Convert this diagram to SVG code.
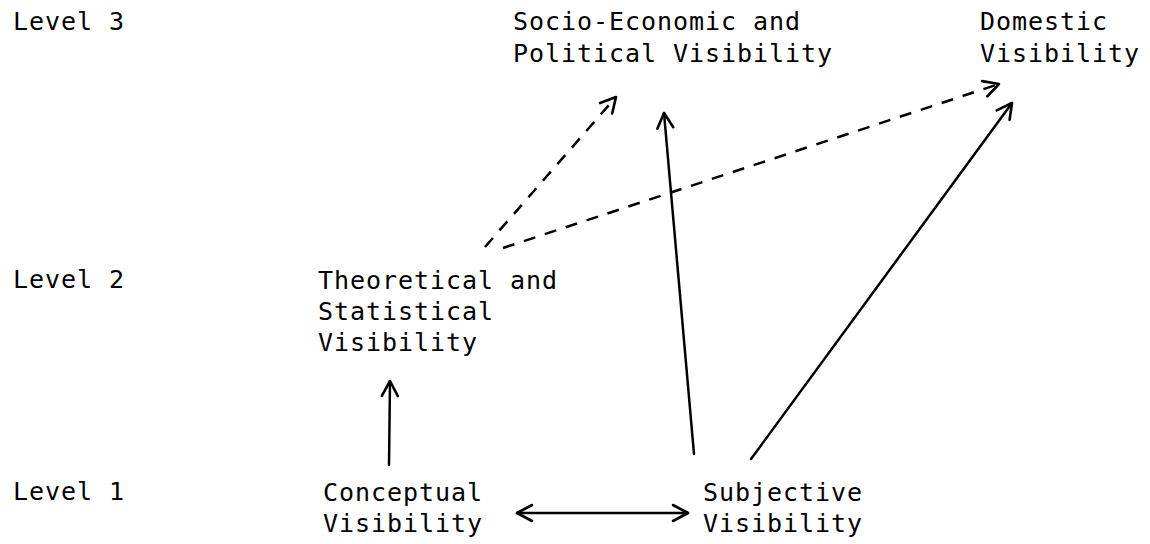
<svg xmlns="http://www.w3.org/2000/svg" width="1150" height="544" viewBox="0 0 1150 544">
<style>
text{font-family:"DejaVu Sans Mono","Liberation Mono",monospace;font-size:25px;letter-spacing:0.95px;fill:#000}
.c{stroke:#000;stroke-width:2.5;fill:none;stroke-linecap:round}
.d{stroke-dasharray:12 10;stroke-linecap:butt}
</style>
<defs>
<marker id="ah" markerUnits="userSpaceOnUse" markerWidth="30" markerHeight="30" refX="0" refY="0" viewBox="-20 -15 30 30" orient="auto-start-reverse">
<path d="M -15 -8 L 0 0 L -15 8" stroke="#000" stroke-width="2.6" fill="none" stroke-linecap="round" stroke-linejoin="round"/>
</marker>
</defs>
<rect width="1150" height="544" fill="#fff"/>
<g id="levels">
<text x="13" y="30">Level 3</text>
<text x="13" y="288">Level 2</text>
<text x="13" y="500">Level 1</text>
</g>
<g id="socio">
<text x="513" y="30">Socio-Economic and</text>
<text x="513" y="62">Political Visibility</text>
</g>
<g id="domestic">
<text x="980" y="30">Domestic</text>
<text x="980" y="62">Visibility</text>
</g>
<g id="theoretical">
<text x="318" y="289">Theoretical and</text>
<text x="318" y="320">Statistical</text>
<text x="318" y="351">Visibility</text>
</g>
<g id="conceptual">
<text x="323" y="501">Conceptual</text>
<text x="323" y="532">Visibility</text>
</g>
<g id="subjective">
<text x="703" y="501">Subjective</text>
<text x="703" y="532">Visibility</text>
</g>
<g id="connectors">
<line class="c" x1="389" y1="465" x2="390" y2="381" marker-end="url(#ah)"/>
<line class="c" x1="517" y1="513" x2="688" y2="513" stroke-width="3" marker-start="url(#ah)" marker-end="url(#ah)"/>
<line class="c" x1="694" y1="454" x2="664" y2="113" marker-end="url(#ah)"/>
<line class="c" x1="751" y1="459" x2="1012" y2="103" marker-end="url(#ah)"/>
<line class="c d" x1="485" y1="247" x2="616" y2="97" marker-end="url(#ah)"/>
<line class="c d" x1="503" y1="248" x2="999" y2="84" stroke-dasharray="14 11" marker-end="url(#ah)"/>
</g>
</svg>
